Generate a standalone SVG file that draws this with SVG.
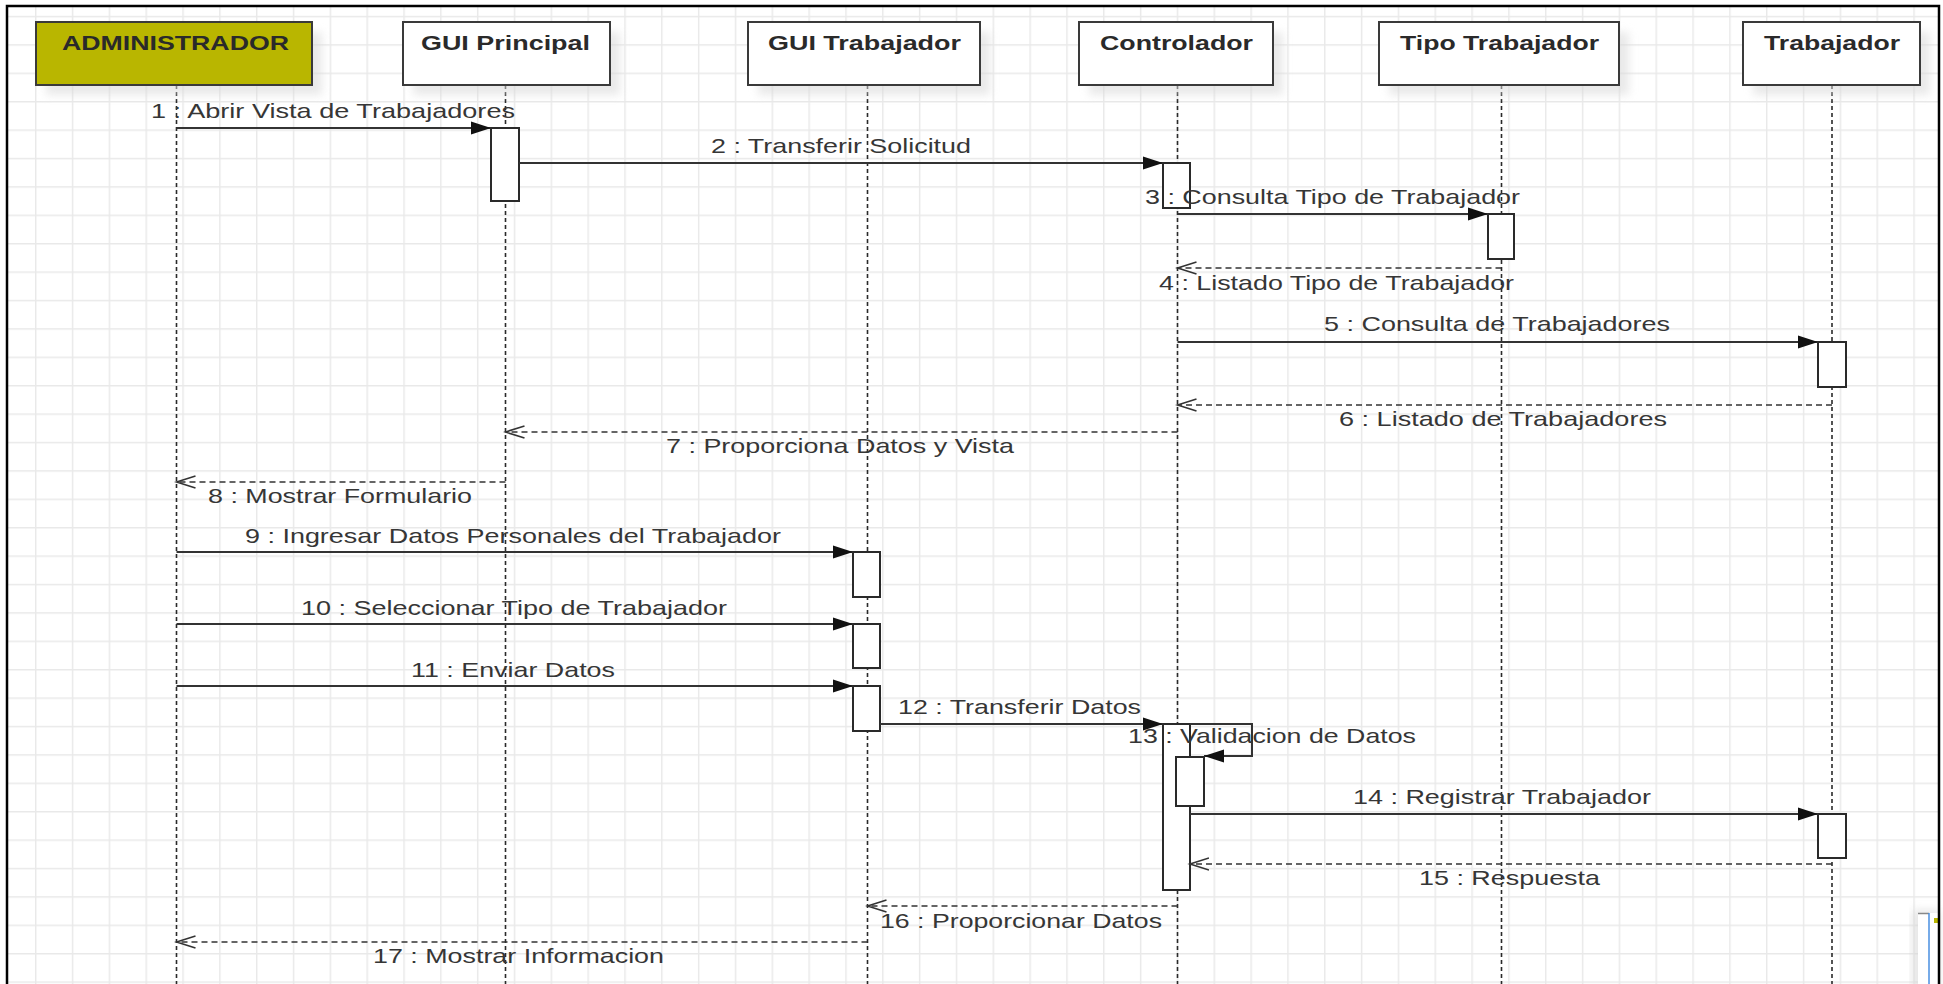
<svg xmlns="http://www.w3.org/2000/svg" width="1943" height="984" viewBox="0 0 1943 984">
  <defs>
    <style>
      .hdr { fill: #ffffff; stroke: #3a3a3a; stroke-width: 2; }
      .hdr-actor { fill: #b9b600; stroke: #3a3a3a; stroke-width: 2; }
      .shadow { fill: #d8d8d8; opacity: 0.55; filter: url(#soft); }
      .hdr-text { font-family: "Liberation Sans", Arial, sans-serif; font-size: 21px; font-weight: bold; fill: #2a2a2a; }
      .life { stroke: #2a2a2a; stroke-width: 1.6; stroke-dasharray: 4 3; fill: none; }
      .act { fill: #ffffff; stroke: #2a2a2a; stroke-width: 2; }
      .msg { stroke: #333333; stroke-width: 2; fill: none; }
      .ret { stroke: #333333; stroke-width: 1.6; stroke-dasharray: 6 4; fill: none; }
      .lbl { font-family: "Liberation Sans", Arial, sans-serif; font-size: 21px; fill: #363636; }
    </style>
    <filter id="soft" x="-10%" y="-20%" width="120%" height="140%">
      <feGaussianBlur stdDeviation="4"/>
    </filter>
    <pattern id="grid" x="35" y="15.8" width="36.83" height="28.4" patternUnits="userSpaceOnUse">
      <path d="M0 0.7 H36.83 M0.7 0 V28.4" stroke="#e9e9e9" stroke-width="1.5" fill="none"/>
    </pattern>
    <marker id="filled" markerUnits="userSpaceOnUse" markerWidth="22" markerHeight="16" refX="20" refY="7" orient="auto">
      <path d="M0 0.5 L20 7 L0 13.5 Z" fill="#111111" stroke="none"/>
    </marker>
    <marker id="open" markerUnits="userSpaceOnUse" markerWidth="22" markerHeight="16" refX="19" refY="7" orient="auto">
      <path d="M0 1 L19 7 L0 13" fill="none" stroke="#333333" stroke-width="1.6" stroke-dasharray="none"/>
    </marker>
  </defs>

  <!-- canvas background and grid -->
  <rect x="0" y="0" width="1943" height="984" fill="#ffffff"/>
  <rect x="7" y="6" width="1932" height="990" fill="url(#grid)"/>

  <!-- lifelines -->
  <g id="lifelines">
    <line class="life" x1="176.5" y1="85" x2="176.5" y2="984"/>
    <line class="life" x1="505.5" y1="85" x2="505.5" y2="984"/>
    <line class="life" x1="867.5" y1="85" x2="867.5" y2="984"/>
    <line class="life" x1="1177.5" y1="85" x2="1177.5" y2="984"/>
    <line class="life" x1="1501.5" y1="85" x2="1501.5" y2="984"/>
    <line class="life" x1="1832" y1="85" x2="1832" y2="984"/>
  </g>

  <!-- participants -->
  <g id="administrador">
    <rect class="shadow" x="46" y="32" width="276" height="63"/>
    <rect class="hdr-actor" x="36" y="22" width="276" height="63"/>
    <text class="hdr-text" x="62" y="50" textLength="227" lengthAdjust="spacingAndGlyphs">ADMINISTRADOR</text>
  </g>
  <g id="gui-principal">
    <rect class="shadow" x="413" y="32" width="207" height="63"/>
    <rect class="hdr" x="403" y="22" width="207" height="63"/>
    <text class="hdr-text" x="421" y="50" textLength="169" lengthAdjust="spacingAndGlyphs">GUI Principal</text>
  </g>
  <g id="gui-trabajador">
    <rect class="shadow" x="758" y="32" width="232" height="63"/>
    <rect class="hdr" x="748" y="22" width="232" height="63"/>
    <text class="hdr-text" x="768" y="50" textLength="193" lengthAdjust="spacingAndGlyphs">GUI Trabajador</text>
  </g>
  <g id="controlador">
    <rect class="shadow" x="1089" y="32" width="194" height="63"/>
    <rect class="hdr" x="1079" y="22" width="194" height="63"/>
    <text class="hdr-text" x="1100" y="50" textLength="153" lengthAdjust="spacingAndGlyphs">Controlador</text>
  </g>
  <g id="tipo-trabajador">
    <rect class="shadow" x="1389" y="32" width="240" height="63"/>
    <rect class="hdr" x="1379" y="22" width="240" height="63"/>
    <text class="hdr-text" x="1400" y="50" textLength="199" lengthAdjust="spacingAndGlyphs">Tipo Trabajador</text>
  </g>
  <g id="trabajador">
    <rect class="shadow" x="1753" y="32" width="177" height="63"/>
    <rect class="hdr" x="1743" y="22" width="177" height="63"/>
    <text class="hdr-text" x="1764" y="50" textLength="136" lengthAdjust="spacingAndGlyphs">Trabajador</text>
  </g>

  <!-- activation bars -->
  <g id="activations">
    <rect class="act" x="491" y="128" width="28" height="73"/>
    <rect class="act" x="1163" y="163" width="27" height="45"/>
    <rect class="act" x="1488" y="214" width="26" height="45"/>
    <rect class="act" x="1818" y="342" width="28" height="45"/>
    <rect class="act" x="853" y="552" width="27" height="45"/>
    <rect class="act" x="853" y="624" width="27" height="44"/>
    <rect class="act" x="853" y="686" width="27" height="45"/>
    <rect class="act" x="1163" y="724" width="27" height="166"/>
    <rect class="act" x="1176" y="757" width="28" height="49"/>
    <rect class="act" x="1818" y="814" width="28" height="44"/>
  </g>

  <!-- messages -->
  <g id="connectors">
    <line class="msg" x1="176.5" y1="128" x2="491" y2="128" marker-end="url(#filled)"/>
    <line class="msg" x1="519" y1="163" x2="1163" y2="163" marker-end="url(#filled)"/>
    <line class="msg" x1="1177.5" y1="214" x2="1488" y2="214" marker-end="url(#filled)"/>
    <line class="ret" x1="1501.5" y1="268" x2="1177.5" y2="268" marker-end="url(#open)"/>
    <line class="msg" x1="1177.5" y1="342" x2="1818" y2="342" marker-end="url(#filled)"/>
    <line class="ret" x1="1832" y1="405" x2="1177.5" y2="405" marker-end="url(#open)"/>
    <line class="ret" x1="1177.5" y1="432" x2="505.5" y2="432" marker-end="url(#open)"/>
    <line class="ret" x1="505.5" y1="482" x2="176.5" y2="482" marker-end="url(#open)"/>
    <line class="msg" x1="176.5" y1="552" x2="853" y2="552" marker-end="url(#filled)"/>
    <line class="msg" x1="176.5" y1="624" x2="853" y2="624" marker-end="url(#filled)"/>
    <line class="msg" x1="176.5" y1="686" x2="853" y2="686" marker-end="url(#filled)"/>
    <line class="msg" x1="880" y1="724" x2="1163" y2="724" marker-end="url(#filled)"/>
    <path class="msg" d="M1190 724 H1252 V756 H1204" marker-end="url(#filled)"/>
    <line class="msg" x1="1190" y1="814" x2="1818" y2="814" marker-end="url(#filled)"/>
    <line class="ret" x1="1832" y1="864" x2="1190" y2="864" marker-end="url(#open)"/>
    <line class="ret" x1="1177.5" y1="906" x2="867.5" y2="906" marker-end="url(#open)"/>
    <line class="ret" x1="867.5" y1="942" x2="176.5" y2="942" marker-end="url(#open)"/>
  </g>

  <!-- message labels -->
  <g id="labels">
    <text class="lbl" x="151" y="118" textLength="364" lengthAdjust="spacingAndGlyphs">1 : Abrir Vista de Trabajadores</text>
    <text class="lbl" x="711" y="153" textLength="260" lengthAdjust="spacingAndGlyphs">2 : Transferir Solicitud</text>
    <text class="lbl" x="1145" y="204" textLength="375" lengthAdjust="spacingAndGlyphs">3 : Consulta Tipo de Trabajador</text>
    <text class="lbl" x="1159" y="290" textLength="355" lengthAdjust="spacingAndGlyphs">4 : Listado Tipo de Trabajador</text>
    <text class="lbl" x="1324" y="331" textLength="346" lengthAdjust="spacingAndGlyphs">5 : Consulta de Trabajadores</text>
    <text class="lbl" x="1339" y="426" textLength="328" lengthAdjust="spacingAndGlyphs">6 : Listado de Trabajadores</text>
    <text class="lbl" x="666" y="453" textLength="348" lengthAdjust="spacingAndGlyphs">7 : Proporciona Datos y Vista</text>
    <text class="lbl" x="208" y="503" textLength="264" lengthAdjust="spacingAndGlyphs">8 : Mostrar Formulario</text>
    <text class="lbl" x="245" y="543" textLength="536" lengthAdjust="spacingAndGlyphs">9 : Ingresar Datos Personales del Trabajador</text>
    <text class="lbl" x="301" y="615" textLength="426" lengthAdjust="spacingAndGlyphs">10 : Seleccionar Tipo de Trabajador</text>
    <text class="lbl" x="411" y="677" textLength="204" lengthAdjust="spacingAndGlyphs">11 : Enviar Datos</text>
    <text class="lbl" x="898" y="714" textLength="243" lengthAdjust="spacingAndGlyphs">12 : Transferir Datos</text>
    <text class="lbl" x="1128" y="743" textLength="288" lengthAdjust="spacingAndGlyphs">13 : Validacion de Datos</text>
    <text class="lbl" x="1353" y="804" textLength="298" lengthAdjust="spacingAndGlyphs">14 : Registrar Trabajador</text>
    <text class="lbl" x="1419" y="885" textLength="181" lengthAdjust="spacingAndGlyphs">15 : Respuesta</text>
    <text class="lbl" x="880" y="928" textLength="282" lengthAdjust="spacingAndGlyphs">16 : Proporcionar Datos</text>
    <text class="lbl" x="373" y="963" textLength="291" lengthAdjust="spacingAndGlyphs">17 : Mostrar Informacion</text>
  </g>

  <!-- small docked panel at the lower right corner -->
  <g id="side-panel">
    <rect x="1912" y="910" width="28" height="80" fill="#cfcfcf" opacity="0.5" filter="url(#soft)"/>
    <rect x="1918" y="913" width="22" height="75" fill="#ffffff"/>
    <line x1="1918" y1="913.5" x2="1929" y2="913.5" stroke="#888888" stroke-width="1.5"/>
    <line x1="1929" y1="913" x2="1929" y2="984" stroke="#4a8fe0" stroke-width="1.5"/>
    <rect x="1934" y="918" width="4" height="5" fill="#b9b600"/>
  </g>

  <!-- outer frame -->
  <rect x="7" y="6" width="1932" height="1000" fill="none" stroke="#000000" stroke-width="2.5"/>
</svg>
